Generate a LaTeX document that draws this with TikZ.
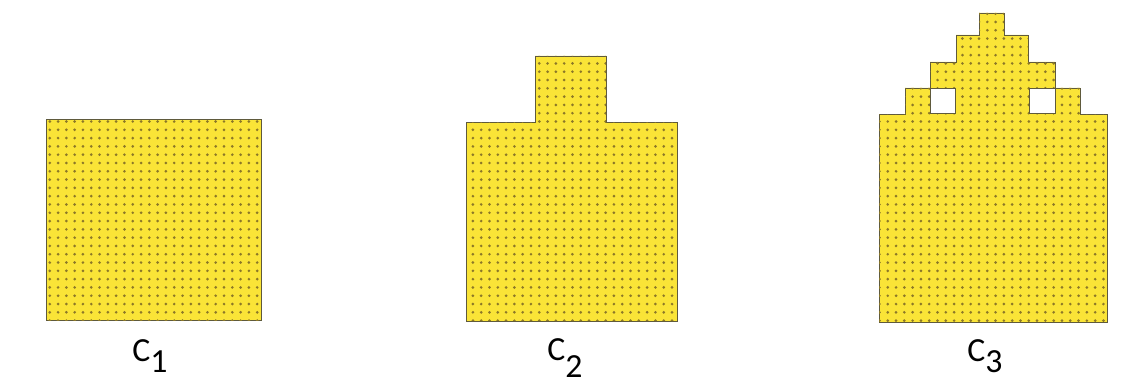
\documentclass[tikz,border=0pt]{standalone}
\usepackage{fontspec}
\setmainfont{Carlito}
\usetikzlibrary{patterns.meta}

\definecolor{cellYellow}{RGB}{250,228,55}
\definecolor{cellDot}{RGB}{140,120,40}
\definecolor{cellEdge}{RGB}{95,90,60}

\begin{document}
\begin{tikzpicture}[x=0.025cm, y=-0.025cm,
cell/.style={fill=cellYellow, draw=cellEdge, line width=0.7pt,
  postaction={pattern={Dots[distance=5.9pt, radius=1.05pt]}, pattern color=cellDot}} ,
hole/.style={fill=white, draw=cellEdge, line width=0.7pt} ,
cname/.style={font=\fontsize{24}{27}\selectfont, inner sep=0pt, anchor=north west}
]
\useasboundingbox (0,0) rectangle (1131,387) ;

% C1: the plain square
\draw [cell] (46,119) rectangle (261,320) ;
\node [cname] (c1) at (132,339) {C\raisebox{-0.33em}{1}} ;

% C2: square with one block on top
\draw [cell] (466,321) -- (466,122) -- (535,122) -- (535,56) -- (606,56)
  -- (606,122) -- (677,122) -- (677,321) -- cycle ;
\node [cname] (c2) at (547,338) {C\raisebox{-0.5em}{2}} ;

% C3: stepped top with two holes
\draw [cell] (879,322) -- (879,114) -- (905,114) -- (905,88) -- (930,88)
  -- (930,62) -- (956,62) -- (956,35) -- (979,35) -- (979,13) -- (1004,13)
  -- (1004,35) -- (1028,35) -- (1028,62) -- (1055,62) -- (1055,88)
  -- (1080,88) -- (1080,114) -- (1107,114) -- (1107,322) -- cycle ;
\draw [hole] (930,88) rectangle (955,113) ;
\draw [hole] (1029,88) rectangle (1055,113) ;
\node [cname] (c3) at (967,339) {C\raisebox{-0.33em}{3}} ;
\end{tikzpicture}
\end{document}
